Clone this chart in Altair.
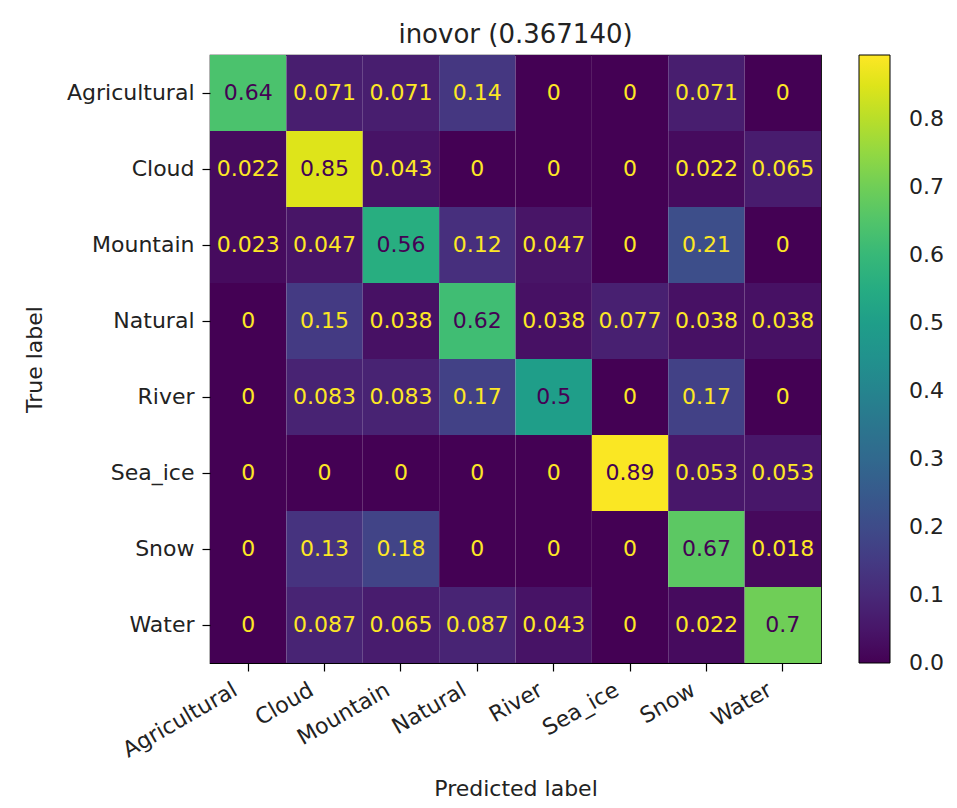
import altair as alt
import pandas as pd

classes = ["Agricultural", "Cloud", "Mountain", "Natural", "River", "Sea_ice", "Snow", "Water"]

row_agricultural = [0.64, 0.071, 0.071, 0.14, 0, 0, 0.071, 0]
row_cloud = [0.022, 0.85, 0.043, 0, 0, 0, 0.022, 0.065]
row_mountain = [0.023, 0.047, 0.56, 0.12, 0.047, 0, 0.21, 0]
row_natural = [0, 0.15, 0.038, 0.62, 0.038, 0.077, 0.038, 0.038]
row_river = [0, 0.083, 0.083, 0.17, 0.5, 0, 0.17, 0]
row_sea_ice = [0, 0, 0, 0, 0, 0.89, 0.053, 0.053]
row_snow = [0, 0.13, 0.18, 0, 0, 0, 0.67, 0.018]
row_water = [0, 0.087, 0.065, 0.087, 0.043, 0, 0.022, 0.7]

matrix = [row_agricultural, row_cloud, row_mountain, row_natural,
          row_river, row_sea_ice, row_snow, row_water]

colorbar_ticks = [0.0, 0.1, 0.2, 0.3, 0.4, 0.5, 0.6, 0.7, 0.8]
color_min = -0.0002
color_max = 0.8947

records = []
for t, vals in zip(classes, matrix):
    for p, v in zip(classes, vals):
        records.append({"true": t, "pred": p, "value": v})
df = pd.DataFrame(records)

vmax = max(max(r) for r in matrix)
vmin = min(min(r) for r in matrix)
thresh = (vmax + vmin) / 2

FONT = "DejaVu Sans"
FS = 22

x_enc = alt.X(
    "pred:N", sort=classes,
    scale=alt.Scale(paddingInner=0, paddingOuter=0),
    axis=alt.Axis(
        title="Predicted label", labelAngle=-30, labelAlign="right",
        labelBaseline="top", labelOffset=-18, labelPadding=8, tickSize=8,
        titleY=132, titleBaseline="alphabetic",
    ),
)
y_enc = alt.Y(
    "true:N", sort=classes,
    scale=alt.Scale(paddingInner=0, paddingOuter=0),
    axis=alt.Axis(
        title="True label", labelPadding=8, tickSize=8,
        titleX=-169, titleBaseline="alphabetic", titleAngle=270,
    ),
)

heat = alt.Chart(df).mark_rect(strokeWidth=0).encode(
    x=x_enc,
    y=y_enc,
    color=alt.Color(
        "value:Q",
        scale=alt.Scale(scheme="viridis", domain=[color_min, color_max]),
        legend=alt.Legend(
            title=None, values=colorbar_ticks, format=".1f",
            gradientLength=608, gradientThickness=31,
            gradientStrokeColor="black", gradientStrokeWidth=1,
            offset=38, padding=0, labelOffset=19, labelFontSize=FS,
            labelFont=FONT, labelColor="#222222", labelBaseline="middle",
            labelOverlap=False,
        ),
    ),
)

text = alt.Chart(df).mark_text(font=FONT, fontSize=FS, baseline="middle", align="center").encode(
    x=alt.X("pred:N", sort=classes),
    y=alt.Y("true:N", sort=classes),
    text=alt.Text("value:Q", format=".2~g"),
    color=alt.when(alt.datum.value < thresh).then(alt.value("#fde725")).otherwise(alt.value("#440154")),
)

chart = alt.layer(heat, text).properties(
    width=611, height=608,
    title=alt.TitleParams(
        "inovor (0.367140)", fontSize=26, font=FONT, fontWeight="normal",
        anchor="middle", frame="group", baseline="alphabetic", offset=13,
        dy=27, color="#222222",
    ),
    autosize=alt.AutoSizeParams(type="none"),
    padding={"left": 202, "top": 47, "right": 128, "bottom": 140},
).configure_view(
    stroke="black", strokeWidth=1.2
).configure_axis(
    labelFont=FONT, labelFontSize=FS, labelColor="#222222",
    titleFont=FONT, titleFontSize=FS, titleFontWeight="normal", titleColor="#222222",
    domain=False, tickColor="black", tickWidth=1.2, grid=False,
)

chart.save("out.html", embed_options={"renderer": "svg", "actions": False})
